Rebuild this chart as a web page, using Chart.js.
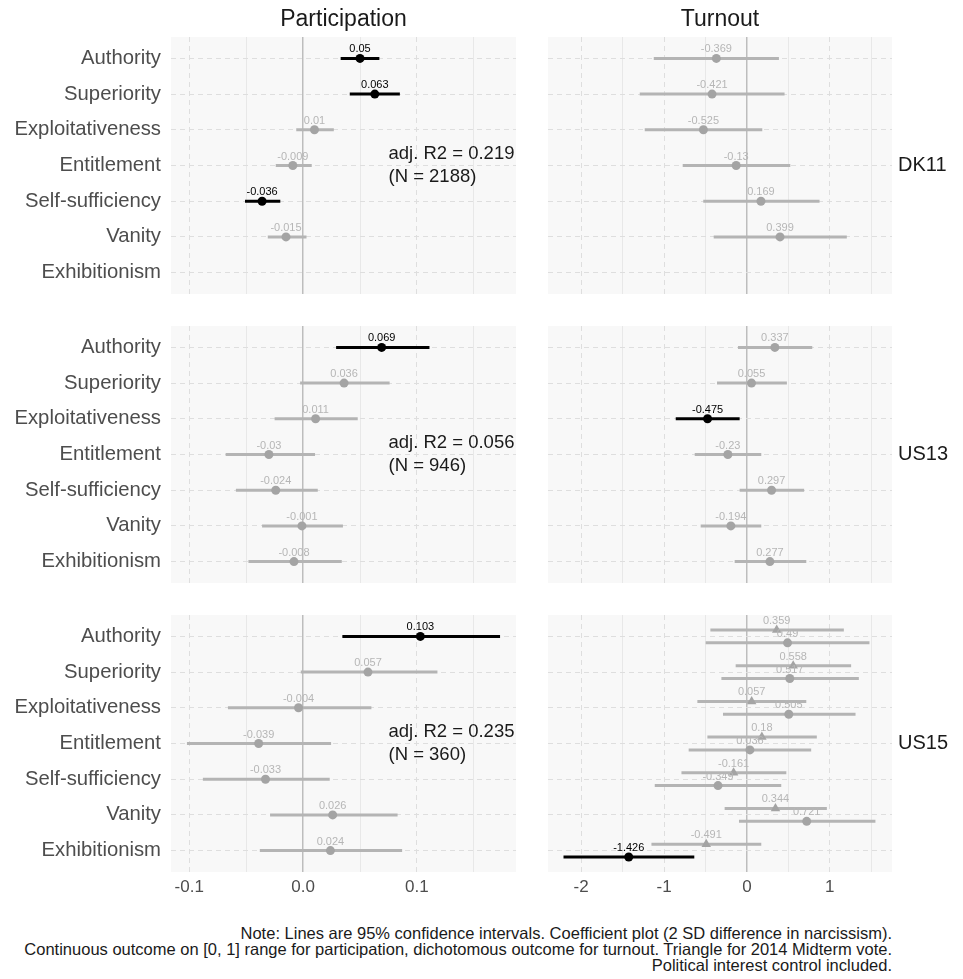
<!DOCTYPE html>
<html>
<head>
<meta charset="utf-8">
<script src="https://cdn.jsdelivr.net/npm/chart.js@4/dist/chart.umd.min.js"></script>
<style>
  html, body { margin: 0; padding: 0; background: #fff; }
  body { width: 963px; height: 979px; position: relative; overflow: hidden;
         font-family: "Liberation Sans", Arial, sans-serif; }
  canvas { position: absolute; }
  #note { position: absolute; right: 71px; top: 924.5px; text-align: right;
          font-size: 16.5px; line-height: 16.3px; color: #1a1a1a; white-space: nowrap; }
</style>
</head>
<body>
<div id="note">Note: Lines are 95% confidence intervals. Coefficient plot (2 SD difference in narcissism).<br>Continuous outcome on [0, 1] range for participation, dichotomous outcome for turnout. Triangle for 2014 Midterm vote.<br>Political interest control included.</div>
<script>
const FONT = '"Liberation Sans", Arial, sans-serif';

// Narcissism facets (rows of every panel, top to bottom)
const traits = ['Authority', 'Superiority', 'Exploitativeness', 'Entitlement',
                'Self-sufficiency', 'Vanity', 'Exhibitionism'];
const samples = ['DK11', 'US13', 'US15'];
const outcomes = ['Participation', 'Turnout'];

// x-axis ticks per column ('' = minor grid line without a label)
const partTickVals = [-0.1, -0.05, 0, 0.05, 0.1, 0.15];
const partTickText = ['-0.1', '', '0.0', '', '0.1', ''];
const turnTickVals = [-2, -1.5, -1, -0.5, 0, 0.5, 1, 1.5];
const turnTickText = ['-2', '', '-1', '', '0', '', '1', ''];
const partRange = [-0.116, 0.187];
const turnRange = [-2.40, 1.75];

// Model fit shown in the participation panels
const fitR2 = ['0.219', '0.056', '0.235'];
const fitN = ['2188', '946', '360'];

// Participation: estimates and 95% CI bounds (null = not in model)
const partDK11Est = [0.05, 0.063, 0.01, -0.009, -0.036, -0.015, null];
const partDK11Lo  = [0.033, 0.041, -0.006, -0.024, -0.051, -0.031, null];
const partDK11Hi  = [0.067, 0.085, 0.027, 0.0076, -0.020, 0.003, null];

const partUS13Est = [0.069, 0.036, 0.011, -0.03, -0.024, -0.001, -0.008];
const partUS13Lo  = [0.029, -0.0026, -0.025, -0.068, -0.059, -0.036, -0.048];
const partUS13Hi  = [0.111, 0.076, 0.048, 0.0105, 0.0129, 0.035, 0.034];

const partUS15Est = [0.103, 0.057, -0.004, -0.039, -0.033, 0.026, 0.024];
const partUS15Lo  = [0.0345, -0.002, -0.066, -0.102, -0.088, -0.029, -0.038];
const partUS15Hi  = [0.173, 0.118, 0.060, 0.0246, 0.0234, 0.083, 0.087];

// Turnout: estimates and 95% CI bounds
const turnDK11Est = [-0.369, -0.421, -0.525, -0.13, 0.169, 0.399, null];
const turnDK11Lo  = [-1.124, -1.293, -1.233, -0.775, -0.527, -0.401, null];
const turnDK11Hi  = [0.386, 0.454, 0.185, 0.523, 0.876, 1.205, null];

const turnUS13Est = [0.337, 0.055, -0.475, -0.23, 0.297, -0.194, 0.277];
const turnUS13Lo  = [-0.108, -0.361, -0.859, -0.630, -0.088, -0.558, -0.148];
const turnUS13Hi  = [0.788, 0.482, -0.088, 0.173, 0.690, 0.173, 0.716];

const turnUS15Est = [0.49, 0.517, 0.505, 0.036, -0.349, 0.721, -1.426];
const turnUS15Lo  = [-0.498, -0.308, -0.289, -0.703, -1.112, -0.096, -2.213];
const turnUS15Hi  = [1.478, 1.350, 1.310, 0.775, 0.414, 1.550, -0.635];

// 2014 Midterm vote (triangles)
const midUS15Est = [0.359, 0.558, 0.057, 0.18, -0.161, 0.344, -0.491];
const midUS15Lo  = [-0.441, -0.136, -0.598, -0.477, -0.790, -0.269, -1.152];
const midUS15Hi  = [1.169, 1.257, 0.716, 0.843, 0.475, 0.964, 0.173];

const GREY_LINE = '#b4b4b4';
const GREY_POINT = '#a4a4a4';
const GREY_TEXT = '#b6b6b6';
const BLACK = '#000000';

function significant(lo, hi) { return lo > 0 || hi < 0; }

// CI segments + points for one series; offset dodges rows vertically
function seriesDatasets(est, lo, hi, offset, shape) {
  const lines = [];
  const radius = shape === 'triangle' ? 5.5 : 4.5;
  const grey = { data: [], valueLabels: [], labelColor: GREY_TEXT, pointStyle: shape,
                 pointRadius: radius, backgroundColor: GREY_POINT, borderColor: GREY_POINT,
                 pointBorderWidth: 0, order: 2 };
  const black = { data: [], valueLabels: [], labelColor: BLACK, pointStyle: shape,
                  pointRadius: radius, backgroundColor: BLACK, borderColor: BLACK,
                  pointBorderWidth: 0, order: 1 };
  est.forEach((v, i) => {
    if (v === null) return;
    const y = i + 1 + offset;
    const sig = significant(lo[i], hi[i]);
    lines.push({
      data: [{ x: lo[i], y }, { x: hi[i], y }],
      showLine: true, borderColor: sig ? BLACK : GREY_LINE, borderWidth: 3,
      borderCapStyle: 'butt', pointRadius: 0, order: sig ? 3 : 4
    });
    const target = sig ? black : grey;
    target.data.push({ x: v, y });
    target.valueLabels.push(String(v));
  });
  return lines.concat([grey, black]);
}

const panelBg = {
  id: 'panelBg',
  beforeDraw(chart) {
    const a = chart.chartArea, c = chart.ctx;
    c.save();
    c.fillStyle = '#f8f8f8';
    c.fillRect(a.left, a.top, a.right - a.left, a.bottom - a.top);
    c.restore();
  }
};

const valueLabels = {
  id: 'valueLabels',
  afterDatasetsDraw(chart) {
    const c = chart.ctx;
    c.save();
    c.font = '11px ' + FONT;
    c.textAlign = 'center';
    c.textBaseline = 'middle';
    chart.data.datasets.forEach((ds, i) => {
      if (!ds.valueLabels) return;
      const meta = chart.getDatasetMeta(i);
      c.fillStyle = ds.labelColor;
      meta.data.forEach((el, j) => c.fillText(ds.valueLabels[j], el.x, el.y - 9));
    });
    c.restore();
  }
};

const fitText = {
  id: 'fitText',
  afterDatasetsDraw(chart) {
    const info = chart.options.plugins.fitText;
    if (!info || !info.lines) return;
    const c = chart.ctx;
    const x = chart.scales.x.getPixelForValue(info.x);
    const y = chart.scales.y.getPixelForValue(info.y);
    c.save();
    c.font = '18.5px ' + FONT;
    c.fillStyle = '#1a1a1a';
    c.textAlign = 'left';
    c.textBaseline = 'middle';
    c.fillText(info.lines[0], x, y - 11.5);
    c.fillText(info.lines[1], x, y + 11.5);
    c.restore();
  }
};

// Panel geometry (chart area edges in page pixels)
const colLeft = [171, 548];
const colRight = [516, 892];
const rowTop = [37, 325.5, 614.5];
const rowBottom = [293.5, 582.5, 871];

function makePanel(col, row, datasets) {
  const isPart = col === 0;
  const tickVals = isPart ? partTickVals : turnTickVals;
  const tickText = isPart ? partTickText : turnTickText;
  const range = isPart ? partRange : turnRange;
  const yAxisW = isPart ? 171 : 0;
  const stripW = isPart ? 0 : 71;
  const titleH = row === 0 ? 37 : 0;
  const xAxisH = row === 2 ? 34 : 0;
  const left = colLeft[col] - yAxisW;
  const width = colRight[col] - colLeft[col] + yAxisW + stripW;
  const top = rowTop[row] - titleH;
  const height = rowBottom[row] - rowTop[row] + titleH + xAxisH;

  const cv = document.createElement('canvas');
  cv.width = width; cv.height = Math.round(height);
  cv.style.left = left + 'px'; cv.style.top = top + 'px';
  document.body.appendChild(cv);

  const scales = {
    x: {
      type: 'linear', min: range[0], max: range[1],
      afterBuildTicks: s => { s.ticks = tickVals.map(value => ({ value })); },
      ticks: { display: row === 2, autoSkip: false, maxRotation: 0, minRotation: 0,
               padding: 5, color: '#4d4d4d', font: { family: FONT, size: 17 },
               callback: (v, i) => tickText[i] },
      grid: {
        drawTicks: false,
        color: ctx => (ctx.tick && Math.abs(ctx.tick.value) < 1e-9) ? '#bdbdbd'
                      : (tickText[ctx.index] ? '#dedede' : '#e8e8e8'),
        lineWidth: ctx => (ctx.tick && Math.abs(ctx.tick.value) < 1e-9) ? 1.5 : 1
      },
      border: { display: false,
                dash: ctx => (ctx.tick && Math.abs(ctx.tick.value) > 1e-9 && tickText[ctx.index]) ? [5, 4] : [] },
      afterFit: s => { s.height = xAxisH; s.paddingLeft = 0; s.paddingRight = 0; }
    },
    y: {
      type: 'linear', reverse: true, min: 0.4, max: 7.6,
      afterBuildTicks: s => { s.ticks = traits.map((t, i) => ({ value: i + 1 })); },
      ticks: { display: isPart, autoSkip: false, padding: 10, color: '#4d4d4d',
               font: { family: FONT, size: 20.3 },
               callback: v => traits[Math.round(v) - 1] },
      grid: { drawTicks: false, color: '#dedede', lineWidth: 1 },
      border: { display: false, dash: [5, 4] },
      afterFit: s => { s.width = yAxisW; s.paddingTop = 0; s.paddingBottom = 0; }
    }
  };
  if (!isPart) {
    scales.strip = {
      type: 'linear', axis: 'y', position: 'right', reverse: true, min: 0.4, max: 7.6,
      afterBuildTicks: s => { s.ticks = [{ value: 4 }]; },
      ticks: { padding: 6, color: '#1a1a1a', font: { family: FONT, size: 20 },
               callback: () => samples[row] },
      grid: { display: false, drawTicks: false },
      border: { display: false },
      afterFit: s => { s.width = stripW; s.paddingTop = 0; s.paddingBottom = 0; }
    };
  }

  new Chart(cv, {
    type: 'scatter',
    data: { datasets },
    options: {
      responsive: false, animation: false, events: [],
      layout: { padding: 0, autoPadding: false },
      plugins: {
        legend: { display: false },
        tooltip: { enabled: false },
        title: {
          display: row === 0, text: outcomes[col], fullSize: false, color: '#1a1a1a',
          font: { family: FONT, size: 23, weight: 'normal', lineHeight: 1.2 },
          padding: { top: 6, bottom: 3.4 }
        },
        fitText: isPart ? { x: 0.075, y: 4, lines: ['adj. R2 = ' + fitR2[row], '(N = ' + fitN[row] + ')'] } : null
      },
      scales
    },
    plugins: [panelBg, valueLabels, fitText]
  });
}

makePanel(0, 0, seriesDatasets(partDK11Est, partDK11Lo, partDK11Hi, 0, 'circle'));
makePanel(0, 1, seriesDatasets(partUS13Est, partUS13Lo, partUS13Hi, 0, 'circle'));
makePanel(0, 2, seriesDatasets(partUS15Est, partUS15Lo, partUS15Hi, 0, 'circle'));
makePanel(1, 0, seriesDatasets(turnDK11Est, turnDK11Lo, turnDK11Hi, 0, 'circle'));
makePanel(1, 1, seriesDatasets(turnUS13Est, turnUS13Lo, turnUS13Hi, 0, 'circle'));
makePanel(1, 2, seriesDatasets(midUS15Est, midUS15Lo, midUS15Hi, -0.18, 'triangle')
  .concat(seriesDatasets(turnUS15Est, turnUS15Lo, turnUS15Hi, 0.18, 'circle')));
</script>
</body>
</html>
